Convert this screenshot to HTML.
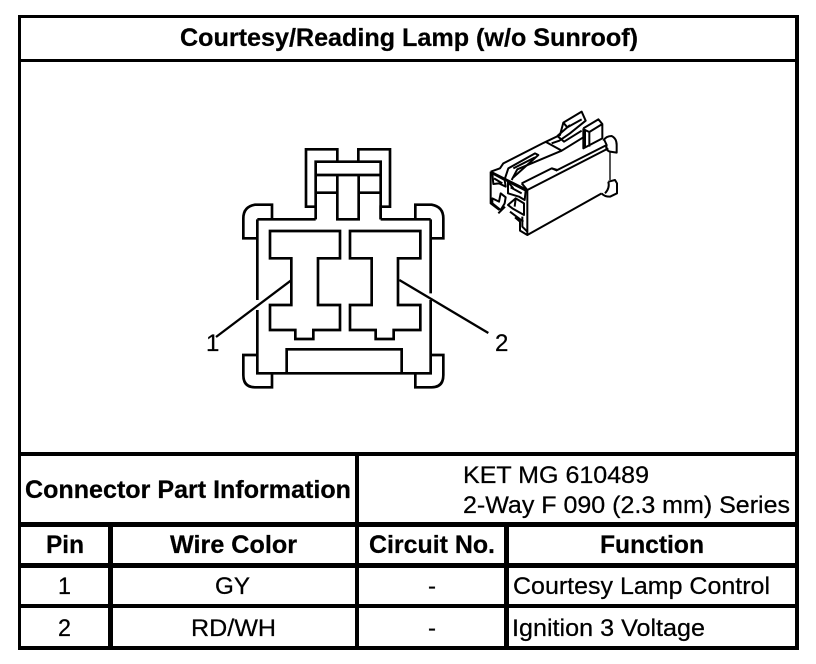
<!DOCTYPE html>
<html><head><meta charset="utf-8"><style>
html,body{margin:0;padding:0;background:#fff;width:816px;height:664px;overflow:hidden}
svg{display:block}
text{font-family:"Liberation Sans",sans-serif;font-size:24px;fill:#000;stroke:#000;stroke-width:.25px}
.b{font-weight:bold;font-size:25px}
</style></head><body>
<svg width="816" height="664" viewBox="0 0 816 664" xmlns="http://www.w3.org/2000/svg">
<rect width="816" height="664" fill="#fff"/>
<!-- frame -->
<g fill="#000">
<rect x="18" y="15" width="781" height="3"/>
<rect x="18" y="15" width="3" height="635"/>
<rect x="795" y="15" width="4" height="635"/>
<rect x="18" y="59" width="781" height="3"/>
<rect x="18" y="452" width="781" height="4"/>
<rect x="18" y="522" width="781" height="5"/>
<rect x="18" y="563" width="781" height="5"/>
<rect x="18" y="604" width="781" height="4"/>
<rect x="18" y="646" width="781" height="4"/>
<rect x="355" y="452" width="4" height="198"/>
<rect x="108" y="522" width="5" height="128"/>
<rect x="504" y="522" width="5" height="128"/>
</g>
<!-- text -->
<text class="b" x="180" y="46" textLength="458" lengthAdjust="spacingAndGlyphs">Courtesy/Reading Lamp (w/o Sunroof)</text>
<text class="b" x="25" y="498" textLength="326" lengthAdjust="spacingAndGlyphs">Connector Part Information</text>
<text x="463" y="483" textLength="186" lengthAdjust="spacingAndGlyphs">KET MG 610489</text>
<text x="463" y="513" textLength="327" lengthAdjust="spacingAndGlyphs">2-Way F 090 (2.3 mm) Series</text>
<text class="b" x="46" y="553" textLength="38" lengthAdjust="spacingAndGlyphs">Pin</text>
<text class="b" x="170" y="553" textLength="127" lengthAdjust="spacingAndGlyphs">Wire Color</text>
<text class="b" x="369" y="553" textLength="126" lengthAdjust="spacingAndGlyphs">Circuit No.</text>
<text class="b" x="600" y="553" textLength="104" lengthAdjust="spacingAndGlyphs">Function</text>
<text x="58" y="594" textLength="13" lengthAdjust="spacingAndGlyphs">1</text>
<text x="215" y="594" textLength="35" lengthAdjust="spacingAndGlyphs">GY</text>
<text x="428" y="594" textLength="8" lengthAdjust="spacingAndGlyphs">-</text>
<text x="513" y="594" textLength="257" lengthAdjust="spacingAndGlyphs">Courtesy Lamp Control</text>
<text x="58" y="636" textLength="13" lengthAdjust="spacingAndGlyphs">2</text>
<text x="191" y="636" textLength="85" lengthAdjust="spacingAndGlyphs">RD/WH</text>
<text x="428" y="636" textLength="8" lengthAdjust="spacingAndGlyphs">-</text>
<text x="512" y="636" textLength="193" lengthAdjust="spacingAndGlyphs">Ignition 3 Voltage</text>
<text x="206" y="351">1</text>
<text x="495" y="351">2</text>
<!-- main connector face -->
<g transform="translate(220,130) scale(0.33333)" fill="none" stroke="#000" stroke-width="8" stroke-linejoin="miter">
<path d="M285 230H258V58H352V92"/>
<path d="M415 92V58H510V230H482V268"/>
<path d="M287 268V95H482V268"/>
<path d="M287 135H482M287 188H352M416 188H482"/>
<path d="M352 135V268H416V135"/>
<path d="M112 268H287M482 268H632"/>
<path d="M112 268V510M112 540V730H632V510M632 490V268"/>
<path d="M156 268V224H105Q70 230 70 265V325H112"/>
<path d="M586 268V224H635Q670 230 670 265V325H632"/>
<path d="M112 675H70V735Q70 772 105 772H156V730"/>
<path d="M632 675H670V735Q670 772 635 772H586V730"/>
<path d="M200 730V658H545V730"/>
<path d="M150 303H360V385H294V525H360V600H280V627H226V600H150V525H214V385H150Z"/>
<path d="M390 303H601V385H534V525H601V600H521V627H467V600H390V525H455V385H390Z"/>
<path d="M212 452L-12 621" stroke-width="7"/>
<path d="M538 450L805 609" stroke-width="7"/>
</g>
<!-- isometric connector -->
<g transform="translate(470,100) scale(0.33333)" fill="none" stroke="#000" stroke-width="6" stroke-linejoin="round">
<path d="M62 215L172 270V405L150 392V365L135 352M62 215V310L88 330"/>
<path d="M172 270L415 145M172 405L395 280"/>
<path d="M62 215L90 205L100 190L222 128L270 105L280 68L335 35L347 62L300 100L268 122L245 130"/>
<path d="M280 68L292 82L335 58M262 108L300 75M262 108L282 125L335 92"/>
<path d="M228 126L275 152L340 112"/>
<path d="M340 85L385 58L397 72V115L340 145V85M340 88L358 96V140M358 96L397 72"/>
<path d="M343 88V142" stroke-width="10"/>
<path d="M130 232L205 165L195 160L115 205L105 235L130 265"/>
<path d="M130 205L195 172"/>
<path d="M125 240L142 208L275 152M155 250L245 205L262 210L410 135L402 118"/>
<path d="M245 205L262 212M172 270L155 250"/>
<path d="M400 122Q408 108 425 108Q440 115 440 135V158L420 155Q405 150 410 135"/>
<path d="M420 155V240" stroke-width="4"/>
<path d="M415 245L435 240L441 250V280L420 290Q403 290 395 280M415 245Q420 265 405 280"/>
<!-- cavities -->
<path d="M67 220L104 240L107 260L87 250L70 252ZM72 235L97 250"/>
<path d="M67 295L87 305L92 280L107 292L104 310L92 330L67 310Z"/>
<path d="M114 245L167 272L164 300L147 290L114 280ZM122 262L155 280"/>
<path d="M114 315L137 295L162 310L162 345L127 325ZM127 325L114 315M137 295L134 320"/>
<path d="M85 340L105 320M120 335L160 365"/>
<path d="M157 350V380L172 395"/>
</g>
</svg>
</body></html>
